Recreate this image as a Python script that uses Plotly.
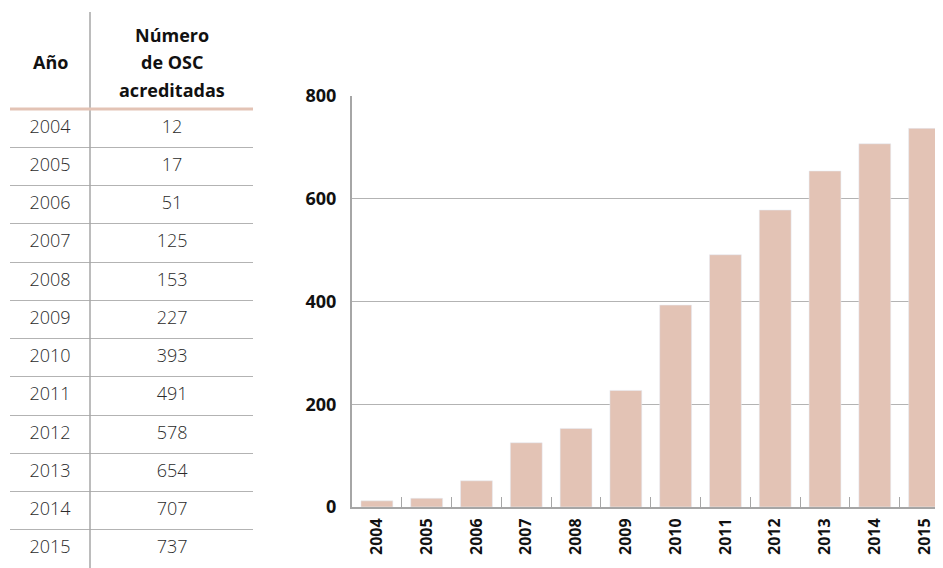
import plotly.graph_objects as go

# Data
years = ["2004", "2005", "2006", "2007", "2008", "2009",
         "2010", "2011", "2012", "2013", "2014", "2015"]
osc_count = [12, 17, 51, 125, 153, 227, 393, 491, 578, 654, 707, 737]

header_year = "Año"
header_count_lines = ["Número", "de OSC", "acreditadas"]

BAR_COLOR = "#e3c3b5"
GRID_COLOR = "#b3b3b3"
AXIS_COLOR = "#a6a6a6"
FONT = "'Open Sans', 'Noto Sans', sans-serif"

# the page body has an 8px margin, so the figure is drawn 8px in and down
OFFSET = 8
W, H = 943 - OFFSET, 568 - OFFSET


def px_x(x):
    return (x - OFFSET) / W


def px_y(y):
    return 1 - (y - OFFSET) / H


fig = go.Figure()

# Table (left) drawn as text on a category axis
cell_font = {"size": 18, "color": "#2b2b2b", "family": FONT, "weight": 300}
fig.add_trace(
    go.Scatter(
        x=[0.165] * len(years),
        y=years,
        mode="text",
        text=years,
        textfont=cell_font,
        xaxis="x",
        yaxis="y",
        hoverinfo="skip",
        showlegend=False,
    )
)
fig.add_trace(
    go.Scatter(
        x=[0.667] * len(years),
        y=years,
        mode="text",
        text=[str(v) for v in osc_count],
        textfont=cell_font,
        xaxis="x",
        yaxis="y",
        hoverinfo="skip",
        showlegend=False,
    )
)

# Bar chart (right)
fig.add_trace(
    go.Bar(
        x=years,
        y=osc_count,
        marker_color=BAR_COLOR,
        xaxis="x2",
        yaxis="y2",
        showlegend=False,
        hovertemplate="%{x}: %{y}<extra></extra>",
    )
)

table_left, table_right = px_x(10), px_x(253)
table_top = px_y(109)

fig.update_layout(
    width=W,
    height=H,
    margin={"l": 0, "r": 0, "t": 0, "b": 0, "pad": 0},
    paper_bgcolor="white",
    plot_bgcolor="white",
    font={"family": FONT, "color": "#111111"},
    bargap=0.36,
    xaxis={
        "domain": [table_left, table_right],
        "range": [0, 1],
        "visible": False,
        "fixedrange": True,
        "automargin": False,
    },
    yaxis={
        "domain": [0, table_top],
        "type": "category",
        "categoryorder": "array",
        "categoryarray": years,
        "range": [11.5, -0.5],
        "tickson": "boundaries",
        "showgrid": True,
        "gridcolor": GRID_COLOR,
        "gridwidth": 1.2,
        "showticklabels": False,
        "ticks": "",
        "zeroline": False,
        "showline": False,
        "fixedrange": True,
        "automargin": False,
    },
    xaxis2={
        "domain": [px_x(352), 1],
        "anchor": "y2",
        "type": "category",
        "range": [-0.5, 11.37],
        "tickangle": -90,
        "tickfont": {"size": 16, "family": FONT, "weight": "bold", "color": "#111111"},
        "tickson": "boundaries",
        "ticks": "inside",
        "ticklen": 10,
        "tickwidth": 1,
        "tickcolor": AXIS_COLOR,
        "showline": True,
        "linecolor": AXIS_COLOR,
        "linewidth": 2,
        "showgrid": False,
        "ticklabelstandoff": 3,
        "automargin": False,
    },
    yaxis2={
        "domain": [px_y(507), px_y(96)],
        "anchor": "x2",
        "range": [0, 800],
        "tickvals": [0, 200, 400, 600, 800],
        "tickfont": {"size": 18, "family": FONT, "weight": "bold", "color": "#111111"},
        "showgrid": True,
        "gridcolor": GRID_COLOR,
        "gridwidth": 1,
        "zeroline": False,
        "showline": True,
        "linecolor": AXIS_COLOR,
        "linewidth": 2,
        "ticks": "",
        "ticklabelstandoff": 10,
        "automargin": False,
    },
)

# Table header text
header_font = {"size": 18, "family": FONT, "weight": "bold", "color": "#111111"}
fig.add_annotation(
    x=px_x(50), y=px_y(62), xref="paper", yref="paper",
    xanchor="center", yanchor="middle",
    text=header_year, showarrow=False, font=header_font,
)
for line, y in zip(header_count_lines, [35, 62, 90]):
    fig.add_annotation(
        x=px_x(172), y=px_y(y), xref="paper", yref="paper",
        xanchor="center", yanchor="middle",
        text=line, showarrow=False, font=header_font,
    )

# Table rules: column separator and header underline
fig.add_shape(
    type="line", xref="paper", yref="paper",
    x0=px_x(90), x1=px_x(90), y0=0, y1=px_y(12),
    line={"color": AXIS_COLOR, "width": 1.5},
)
fig.add_shape(
    type="line", xref="paper", yref="paper",
    x0=table_left, x1=table_right, y0=table_top, y1=table_top,
    line={"color": BAR_COLOR, "width": 3},
)

fig.write_html("out.html")
